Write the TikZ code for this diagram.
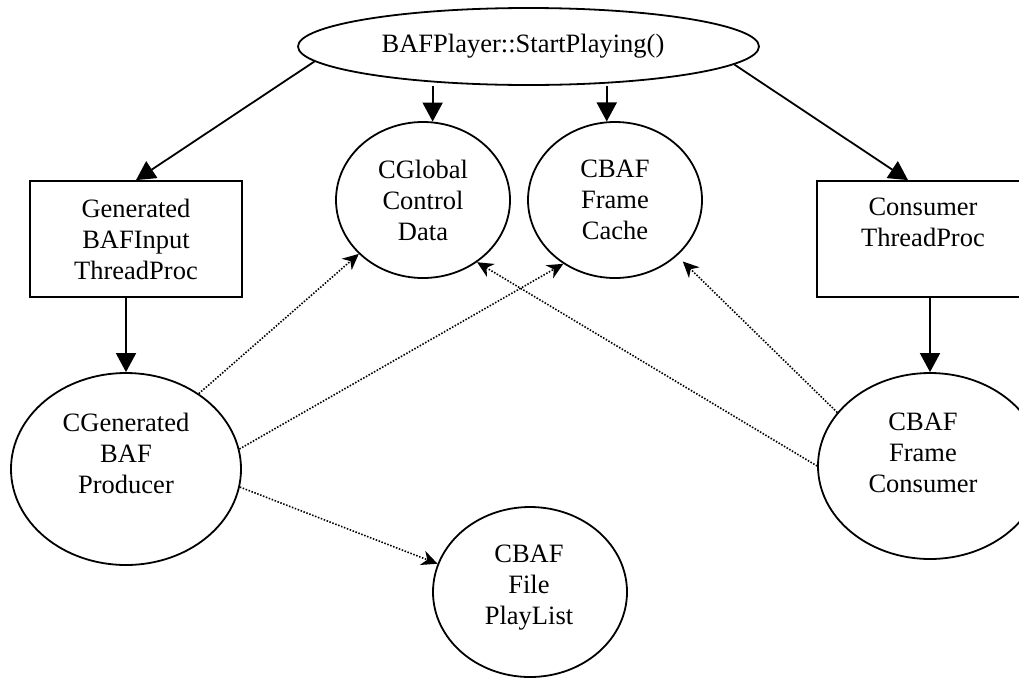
\documentclass[tikz,border=0pt]{standalone}
\usepackage{fontspec}
\setmainfont{Liberation Serif}
\usetikzlibrary{arrows.meta,shapes.geometric,calc}
\begin{document}
\begin{tikzpicture}[x=1pt,y=-1pt,
  every node/.append style={font=\fontsize{26.5}{31}\selectfont},
  oval/.style={draw,ellipse,line width=1.8pt,inner sep=0pt,align=center},
  box/.style={draw,rectangle,line width=1.8pt,inner sep=0pt,
              minimum width=212pt,minimum height=116pt,align=center},
  lbl/.style={inner sep=0pt,align=center},
  call/.style={line width=1.8pt,-{Triangle[length=19pt,width=20pt]}},
  uses/.style={line width=1.6pt,dash pattern=on 1.5pt off 1.6pt,
               -{Stealth[length=16pt,width=15pt,inset=5pt]}}]
\useasboundingbox (0,0) rectangle (1019,678);
\clip (0,0) rectangle (1019,678);

% entry point
\node[oval,minimum width=461pt,minimum height=77pt] (start) at (528.5,46.5) {};
\node[lbl] (starttxt) at (523,46) {BAFPlayer::StartPlaying()};

% shared objects
\node[oval,minimum width=174pt,minimum height=156pt] (glob) at (423,200) {CGlobal\\Control\\Data};
\node[oval,minimum width=174pt,minimum height=156pt] (cache) at (615,200) {CBAF\\Frame\\Cache};

% thread procedures
\node[box] (genbox) at (136,239) {Generated\\BAFInput\\ThreadProc};
\node[box] (conbox) at (923,239) {};
\node[lbl] (contxt) at (923,222) {Consumer\\ThreadProc};

% producer / consumer objects
\node[oval,minimum width=230pt,minimum height=192pt] (prod) at (126,469) {};
\node[lbl] (prodtxt) at (126,453) {CGenerated\\BAF\\Producer};
\node[oval,minimum width=224pt,minimum height=186pt] (cons) at (930,466) {};
\node[lbl] (constxt) at (923,453) {CBAF\\Frame\\Consumer};
\node[oval,minimum width=194pt,minimum height=170pt] (plist) at (530,592) {};
\node[lbl] (plisttxt) at (529,588) {CBAF\\File\\PlayList};

% creation / call edges
\draw[call] (start.184.3) -- (genbox.north);
\draw[call] (start.355.7) -- ($(conbox.north)+(-15,0)$);
\draw[call] (start.south -| glob.83) -- (glob.83);
\draw[call] (start.south -| cache.96) -- (cache.96);
\draw[call] (genbox.south -| prod.north) -- (prod.north);
\draw[call] (conbox.south -| cons.north) -- (cons.north);

% usage edges
\draw[uses] (prod.46) -- (glob.220);
\draw[uses] (prod.10) -- (cache.231);
\draw[uses] (prod.351) -- (plist.163);
\draw[uses] (cons.180) -- (glob.311);
\draw[uses,shorten >=8pt] (cons.150) -- (cache.318);
\end{tikzpicture}
\end{document}
